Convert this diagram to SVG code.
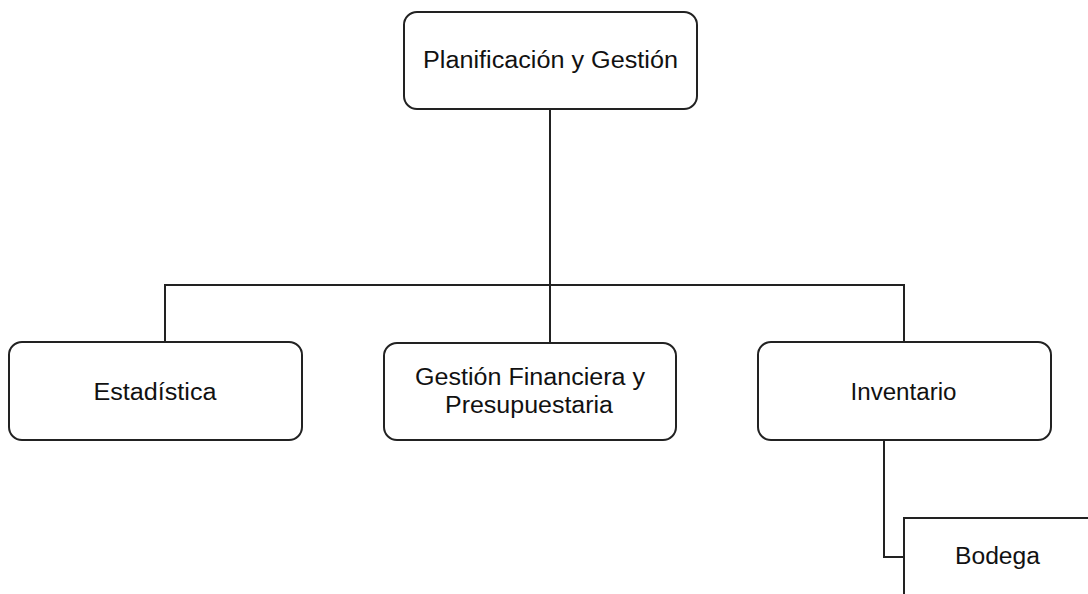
<svg xmlns="http://www.w3.org/2000/svg" width="1088" height="594" viewBox="0 0 1088 594">
<style>
.box{fill:#fff;stroke:#222;stroke-width:2}
.lbl{font-family:"Liberation Sans",Arial,sans-serif;font-size:23px;fill:#111;text-anchor:middle}
.con{fill:none;stroke:#222;stroke-width:2}
</style>
<rect width="1088" height="594" fill="#fff"/>
<g id="connectors">
<path class="con" d="M550 109 V342"/>
<path class="con" d="M165 342 V285 H904 V342"/>
<path class="con" d="M884 440 V557 H904"/>
</g>
<g id="planificacion">
<rect class="box" x="404" y="12" width="293" height="97" rx="13"/>
<text class="lbl" x="550.5" y="68" textLength="255" lengthAdjust="spacingAndGlyphs">Planificación y Gestión</text>
</g>
<g id="estadistica">
<rect class="box" x="9" y="342" width="293" height="98" rx="13"/>
<text class="lbl" x="155" y="400" textLength="123" lengthAdjust="spacingAndGlyphs">Estadística</text>
</g>
<g id="gestion-financiera">
<rect class="box" x="384" y="343" width="292" height="97" rx="13"/>
<text class="lbl" x="530" y="385" textLength="230" lengthAdjust="spacingAndGlyphs">Gestión Financiera y</text>
<text class="lbl" x="529" y="413" textLength="168" lengthAdjust="spacingAndGlyphs">Presupuestaria</text>
</g>
<g id="inventario">
<rect class="box" x="758" y="342" width="293" height="98" rx="13"/>
<text class="lbl" x="903.5" y="400" textLength="106" lengthAdjust="spacingAndGlyphs">Inventario</text>
</g>
<g id="bodega">
<path class="box" d="M1090 518 H904 V596"/>
<text class="lbl" x="997.5" y="564" textLength="85" lengthAdjust="spacingAndGlyphs">Bodega</text>
</g>
</svg>
